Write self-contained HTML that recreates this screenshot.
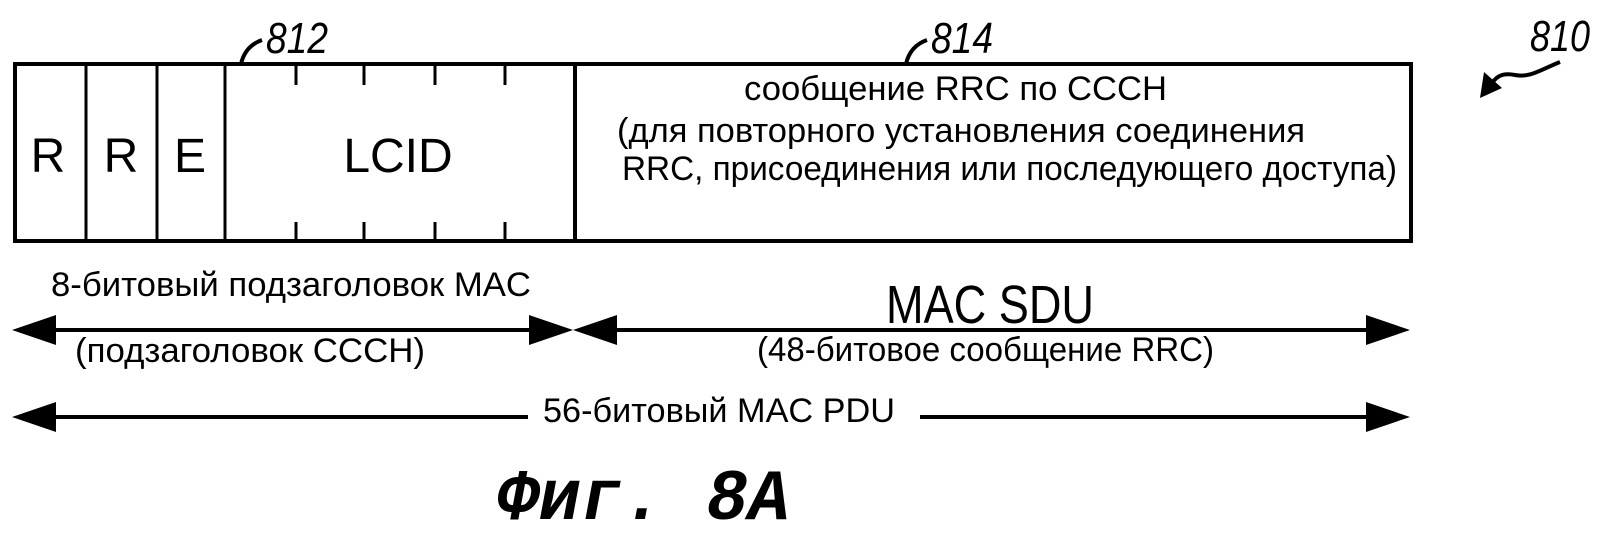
<!DOCTYPE html>
<html><head><meta charset="utf-8"><style>html,body{margin:0;padding:0;background:#fff}svg{display:block}</style></head>
<body>
<svg width="1598" height="540" viewBox="0 0 1598 540" xmlns="http://www.w3.org/2000/svg" font-family="'Liberation Sans', sans-serif">
<g stroke="#000" fill="none">
<rect x="15" y="64" width="1396" height="177" stroke-width="4"/>
<line x1="86" y1="64" x2="86" y2="241" stroke-width="3"/>
<line x1="157" y1="64" x2="157" y2="241" stroke-width="3"/>
<line x1="225" y1="64" x2="225" y2="241" stroke-width="3"/>
<line x1="575" y1="64" x2="575" y2="241" stroke-width="4"/>
<g stroke-width="3">
<line x1="296" y1="64" x2="296" y2="85"/><line x1="364" y1="64" x2="364" y2="85"/><line x1="435" y1="64" x2="435" y2="85"/><line x1="505" y1="64" x2="505" y2="85"/>
<line x1="296" y1="222" x2="296" y2="241"/><line x1="364" y1="222" x2="364" y2="241"/><line x1="435" y1="222" x2="435" y2="241"/><line x1="505" y1="222" x2="505" y2="241"/>
</g>
<path d="M241 64 Q245 46 262 40" stroke-width="4"/>
<path d="M906 64 Q910 46 927 40" stroke-width="4"/>
<line x1="55" y1="330" x2="530" y2="330" stroke-width="4"/>
<line x1="616" y1="330" x2="1366" y2="330" stroke-width="4"/>
<line x1="55" y1="417" x2="528" y2="417" stroke-width="4"/>
<line x1="920" y1="417" x2="1366" y2="417" stroke-width="4"/>
<path d="M1560 62 C1540 70 1530 78 1515 75 C1500 72 1495 78 1488 88" stroke-width="4"/>
</g>
<g fill="#000">
<polygon points="12,330 56,315 56,345"/>
<polygon points="573,330 529,315 529,345"/>
<polygon points="573,330 617,315 617,345"/>
<polygon points="1410,330 1366,315 1366,345"/>
<polygon points="12,417 56,402 56,432"/>
<polygon points="1410,417 1366,402 1366,432"/>
<polygon points="1480,98 1484,72 1502,88"/>
</g>
<g fill="#000" font-size="48">
<text x="48" y="172" text-anchor="middle">R</text>
<text x="121" y="172" text-anchor="middle">R</text>
<text x="190" y="172" text-anchor="middle">E</text>
<text x="398" y="172" text-anchor="middle">LCID</text>
</g>
<g fill="#000" font-size="34">
<text x="744" y="100" textLength="423" lengthAdjust="spacingAndGlyphs">сообщение RRC по CCCH</text>
<text x="617" y="142" textLength="688" lengthAdjust="spacingAndGlyphs">(для повторного установления соединения</text>
<text x="622" y="180" textLength="775" lengthAdjust="spacingAndGlyphs">RRC, присоединения или последующего доступа)</text>
<text x="51" y="296" textLength="480" lengthAdjust="spacingAndGlyphs">8-битовый подзаголовок MAC</text>
<text x="75" y="362" textLength="350" lengthAdjust="spacingAndGlyphs">(подзаголовок CCCH)</text>
<text x="757" y="361" textLength="457" lengthAdjust="spacingAndGlyphs">(48-битовое сообщение RRC)</text>
<text x="543" y="422" textLength="352" lengthAdjust="spacingAndGlyphs">56-битовый MAC PDU</text>
<text x="886" y="323" font-size="54" textLength="208" lengthAdjust="spacingAndGlyphs">MAC SDU</text>
</g>
<g fill="#000" font-style="italic" font-size="44">
<text x="266" y="53" textLength="62" lengthAdjust="spacingAndGlyphs">812</text>
<text x="931" y="53" textLength="62" lengthAdjust="spacingAndGlyphs">814</text>
<text x="1530" y="51" textLength="60" lengthAdjust="spacingAndGlyphs">810</text>
</g>
<text x="497" y="519" font-family="'Liberation Mono', monospace" font-weight="bold" font-style="italic" font-size="72" fill="#000" textLength="293" lengthAdjust="spacingAndGlyphs">Фиг. 8A</text>
</svg>
</body></html>
